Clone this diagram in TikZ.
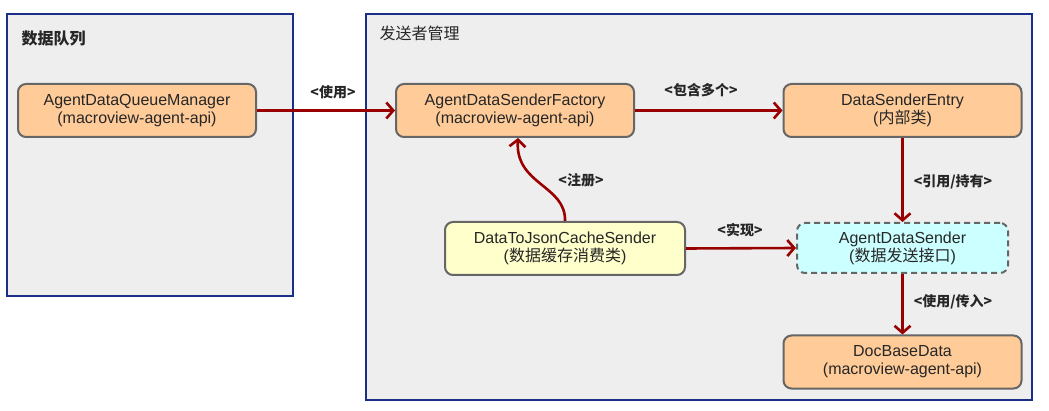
\documentclass[tikz,border=0pt]{standalone}
\usepackage{fontspec}
\setmainfont{Liberation Sans}
\newfontfamily\cjk{Noto Sans CJK SC}
\usetikzlibrary{arrows.meta}

\definecolor{grpfill}{HTML}{EEEEEE}
\definecolor{grpline}{HTML}{1A2F87}
\definecolor{boxorange}{HTML}{FFCC99}
\definecolor{boxyellow}{HTML}{FFFFCC}
\definecolor{boxcyan}{HTML}{CCFFFF}
\definecolor{boxline}{HTML}{666666}
\definecolor{linkred}{HTML}{990000}

\tikzset{
    groupbox/.style={draw=grpline, fill=grpfill, line width=2pt},
    classbox/.style={draw=boxline, fill=boxorange, line width=2pt, rounded corners=8pt,
        minimum width=238pt, minimum height=53pt, align=center, inner sep=0pt,
        text=black!85, font=\fontsize{16}{18}\selectfont},
    link/.style={draw=linkred, line width=2.6pt, -{Straight Barb[length=7pt, width=16pt, line width=2.6pt]}},
    linklabel/.style={font=\cjk\bfseries\fontsize{14}{16}\selectfont, text=black!85},
}

\begin{document}
\begin{tikzpicture}[x=1pt, y=-1pt]
    \useasboundingbox (0,0) rectangle (1049,411);

    % Groups
    \draw[groupbox] (7,14) rectangle (293,296);
    \node[anchor=west, font=\cjk\bfseries\fontsize{16}{18}\selectfont, text=black!85] (queuetitle) at (18,38) {数据队列};
    \draw[groupbox] (366,14) rectangle (1032,400);
    \node[anchor=west, font=\cjk\fontsize{16}{18}\selectfont, text=black!85] (sendertitle) at (376,33) {发送者管理};

    % Classes
    \node[classbox] (queuemgr) at (137,110.5) {AgentDataQueueManager\\(macroview-agent-api)};
    \node[classbox] (factory) at (515,110.5) {AgentDataSenderFactory\\(macroview-agent-api)};
    \node[classbox] (entry) at (902.5,110.5) {DataSenderEntry\\({\cjk 内部类})};
    \node[classbox, fill=boxyellow, minimum width=240pt] (jsonsender) at (565,248.5) {DataToJsonCacheSender\\({\cjk 数据缓存消费类})};
    \node[classbox, fill=boxcyan, dash pattern=on 6pt off 4pt, minimum width=211pt, minimum height=50pt] (sender) at (902.5,248) {AgentDataSender\\({\cjk 数据发送接口})};
    \node[classbox] (docdata) at (902.5,362) {DocBaseData\\(macroview-agent-api)};

    % Links
    \draw[link] (queuemgr.east) -- (factory.west);
    \node[linklabel] (uselabel) at (333,92) {<使用>};
    \draw[link] (factory.east) -- (entry.west);
    \node[linklabel] (holdmany) at (701,90) {<包含多个>};
    \draw[link] (entry.south) -- (sender.north);
    \node[linklabel] (refhold) at (953,182) {<引用/持有>};
    \draw[link] (jsonsender.east) -- (sender.west);
    \node[linklabel] (impl) at (740,230) {<实现>};
    \draw[link] (sender.south) -- (docdata.north);
    \node[linklabel] (usepass) at (953,302) {<使用/传入>};
    \draw[link] (jsonsender.north) .. controls (566,185) and (515,185) .. ([xshift=3pt]factory.south);
    \node[linklabel] (register) at (581,180) {<注册>};
\end{tikzpicture}
\end{document}
